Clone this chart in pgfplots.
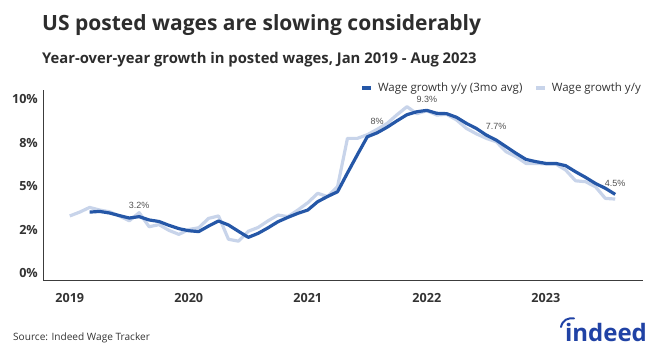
\documentclass[border=0pt]{standalone}
\usepackage{fontspec}
\setmainfont{Open Sans}
\newfontfamily\annfont{Liberation Sans}
\usepackage{pgfplots}
\pgfplotsset{compat=1.18}
\definecolor{darkblue}{RGB}{37,87,167}
\definecolor{lightblue}{RGB}{200,212,234}
\definecolor{titlegray}{RGB}{45,45,45}
\definecolor{labelgray}{RGB}{51,51,51}
\definecolor{axisgray}{RGB}{60,60,60}
\definecolor{anngray}{RGB}{80,80,80}
\definecolor{logoblue}{RGB}{32,66,165}
\begin{document}
\begin{tikzpicture}[x=1pt,y=1pt]
\path[use as bounding box] (0,0) rectangle (662,-355);
\node[anchor=base west, inner sep=0pt, text=titlegray, font=\bfseries\fontsize{21}{22}\selectfont] at (42,-30.5) {US posted wages are slowing considerably};
\node[anchor=base west, inner sep=0pt, text=titlegray, font=\bfseries\fontsize{14.8}{17}\selectfont] at (42,-64) {Year-over-year growth in posted wages, Jan 2019 - Aug 2023};
\begin{axis}[
  scale only axis, width=600pt, height=191pt,
  at={(43pt,-281pt)}, anchor=south west,
  xmin=-2.7, xmax=57.8, ymin=-0.46, ymax=10.52,
  axis x line=bottom, axis y line=left,
  axis line style={-, draw=axisgray, line width=1pt},
  xtick={0,12,24,36,48}, xticklabels={2019,2020,2021,2022,2023},
  ytick={0,2.5,5,7.5,10}, yticklabels={0\%,2\%,5\%,8\%,10\%},
  major tick length=0pt,
  /pgf/number format/assume math mode=true,
  tick label style={font=\bfseries\fontsize{12.6}{13}\selectfont, text=labelgray},
  xticklabel style={anchor=center, yshift=-17pt, inner sep=0pt},
  yticklabel style={anchor=east, inner sep=0pt, xshift=-5pt},
  legend style={at={(1.0,1.01)}, anchor=east, draw=none, fill=none,
    inner sep=0pt, font=\fontsize{11.5}{12}\selectfont, text=labelgray,
    /tikz/every odd column/.append style={column sep=3pt},
    /tikz/every even column/.append style={column sep=10pt}},
  legend columns=2,
  legend image code/.code={\draw[#1, line width=3.5pt, line cap=butt] (0pt,0pt) -- (9pt,0pt);},
  clip=false,
]
\addlegendimage{darkblue}
\addlegendentry{Wage growth y/y (3mo avg)}
\addlegendimage{lightblue}
\addlegendentry{Wage growth y/y}
\addplot[forget plot, lightblue, line width=3.2pt, line join=round] coordinates {
(0,3.28) (1,3.5) (2,3.77) (3,3.62) (4,3.52) (5,3.28) (6,3.0) (7,3.47) (8,2.66) (9,2.78)
(10,2.45) (11,2.22) (12,2.5) (13,2.6) (14,3.14) (15,3.28) (16,1.94) (17,1.83) (18,2.4) (19,2.62)
(20,3.0) (21,3.33) (22,3.24) (23,3.62) (24,4.04) (25,4.58) (26,4.39) (27,4.96) (28,7.74) (29,7.74)
(30,7.95) (31,8.26) (32,8.6) (33,9.1) (34,9.56) (35,9.16) (36,9.33) (37,9.08) (38,9.12) (39,8.8)
(40,8.31) (41,8.0) (42,7.74) (43,7.55) (44,6.97) (45,6.69) (46,6.3) (47,6.3) (48,6.27) (49,6.27)
(50,5.92) (51,5.3) (52,5.25) (53,4.96) (54,4.29) (55,4.25)
};
\addplot[forget plot, darkblue, line width=3.2pt, line join=round] coordinates {
(2,3.5) (3,3.54) (4,3.45) (5,3.3) (6,3.16) (7,3.24) (8,3.05) (9,2.96)
(10,2.74) (11,2.55) (12,2.43) (13,2.38) (14,2.7) (15,2.99) (16,2.76) (17,2.4) (18,2.05) (19,2.28)
(20,2.6) (21,2.95) (22,3.2) (23,3.43) (24,3.62) (25,4.1) (26,4.4) (27,4.67) (28,5.75) (29,6.8)
(30,7.83) (31,8.06) (32,8.38) (33,8.75) (34,9.1) (35,9.27) (36,9.35) (37,9.18) (38,9.16) (39,8.95)
(40,8.6) (41,8.31) (42,7.93) (43,7.64) (44,7.26) (45,6.88) (46,6.53) (47,6.40) (48,6.30) (49,6.30)
(50,6.17) (51,5.82) (52,5.50) (53,5.15) (54,4.87) (55,4.52)
};
\begin{scope}[every node/.style={font=\annfont\fontsize{9}{10}\selectfont, text=anngray, anchor=base, inner sep=0pt}]
\node[yshift=8pt] at (axis cs:7,3.24) {3.2\%};
\node[yshift=8.5pt] at (axis cs:31,8.06) {8\%};
\node[yshift=8pt] at (axis cs:36,9.35) {9.3\%};
\node[yshift=11pt] at (axis cs:43,7.64) {7.7\%};
\node[yshift=8pt] at (axis cs:55,4.52) {4.5\%};
\end{scope}
\end{axis}
\node[anchor=base west, inner sep=0pt, text=labelgray, font=\fontsize{10.1}{11}\selectfont] at (13,-341) {Source: Indeed Wage Tracker};
\node[anchor=base, inner sep=0pt, text=logoblue, font=\bfseries\fontsize{24}{25}\selectfont] at (606,-342) {indeed};
\draw[logoblue, line width=2pt, line cap=round] (561,-327) .. controls (562.5,-320) and (568,-317.5) .. (574,-318.5);
\end{tikzpicture}
\end{document}
